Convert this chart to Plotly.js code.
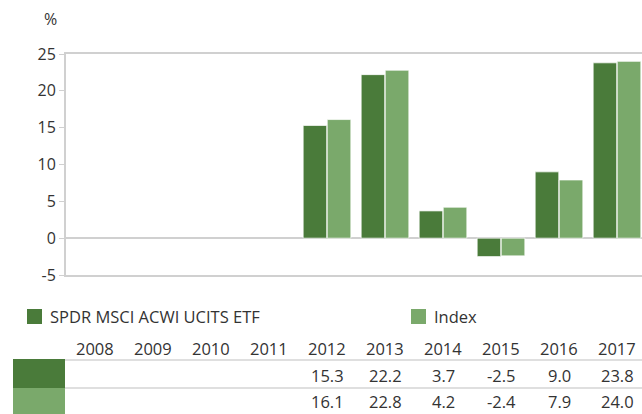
<!DOCTYPE html>
<html>
<head>
<meta charset="utf-8">
<script src="https://cdn.plot.ly/plotly-3.0.1.min.js"></script>
<style>
html,body{margin:0;padding:0;overflow:hidden;background:#fff;}
#chart{width:660px;height:414px;}
</style>
</head>
<body>
<div id="chart"></div>
<script>
const years = ['2008','2009','2010','2011','2012','2013','2014','2015','2016','2017'];
const fundValues = [null,null,null,null,15.3,22.2,3.7,-2.5,9.0,23.8];
const indexValues = [null,null,null,null,16.1,22.8,4.2,-2.4,7.9,24.0];
const seriesNames = ['SPDR MSCI ACWI UCITS ETF','Index'];
const seriesColors = ['#4a7b3a','#7aa96b'];
const yTicks = [-5,0,5,10,15,20,25];
const yTickText = ['-5','0','5','10','15','20','25'];

const W = 660, H = 414, ML = 66, MR = 14, MT = 54, MB = 139;
const PW = W - ML - MR, PH = H - MT - MB;
const toPX = x => (x - ML) / PW;
const toPY = y => (H - MB - y) / PH;
const txt = '#333333';
const fnt = "'Open Sans', 'Noto Sans', sans-serif";
const FS = 16.5;
const xNum = years.map(Number);

const traces = [fundValues, indexValues].map((vals, i) => ({
  type: 'bar', x: xNum, y: vals, name: seriesNames[i],
  marker: {color: seriesColors[i], line: {color: 'rgba(255,255,255,0.7)', width: 1}},
  hoverinfo: 'skip'
}));

const shapes = [];
const annotations = [];
annotations.push({xref:'paper', yref:'paper', x: toPX(50), y: toPY(19), text:'%', showarrow:false,
  xanchor:'center', yanchor:'middle', font:{size:16, color:txt, family:fnt}});

const legX = [27, 411];
seriesNames.forEach((n, i) => {
  shapes.push({type:'rect', xref:'paper', yref:'paper', x0: toPX(legX[i]), x1: toPX(legX[i]+15),
    y0: toPY(324), y1: toPY(309), fillcolor: seriesColors[i], line:{width:0}});
  annotations.push({xref:'paper', yref:'paper', x: toPX(legX[i]+21), y: toPY(316), text: n, showarrow:false,
    xanchor:'left', yanchor:'middle', font:{size:FS, color:txt, family:fnt}});
});

const rowY = [375, 401];
years.forEach((yr, j) => {
  annotations.push({xref:'x', yref:'paper', x: xNum[j], y: toPY(348), text: yr, showarrow:false,
    xanchor:'center', yanchor:'middle', font:{size:FS, color:txt, family:fnt}});
  [fundValues, indexValues].forEach((vals, i) => {
    if (vals[j] !== null) {
      annotations.push({xref:'x', yref:'paper', x: xNum[j], y: toPY(rowY[i]), text: vals[j].toFixed(1), showarrow:false,
        xanchor:'center', yanchor:'middle', borderpad:0, font:{size:FS, color:txt, family:fnt}});
    }
  });
});
shapes.push({type:'rect', xref:'paper', yref:'paper', x0: toPX(13), x1: toPX(65), y0: toPY(388), y1: toPY(359),
  fillcolor: seriesColors[0], line:{width:0}});
shapes.push({type:'rect', xref:'paper', yref:'paper', x0: toPX(13), x1: toPX(65), y0: toPY(416), y1: toPY(388),
  fillcolor: seriesColors[1], line:{width:0}});
[360, 388].forEach(y => shapes.push({type:'line', xref:'paper', yref:'paper', x0: toPX(65), x1: 1.05,
  y0: toPY(y), y1: toPY(y), line:{color:'#d4d4d4', width:1.5}}));

const layout = {
  width: W, height: H,
  margin: {l: ML, r: MR, t: MT, b: MB, pad: 0},
  paper_bgcolor: '#fff', plot_bgcolor: '#fff',
  showlegend: false,
  barmode: 'group', bargap: 0.17, bargroupgap: 0.02,
  font: {family: fnt, color: txt, size: FS},
  xaxis: {range:[xNum[0]-0.5, xNum[xNum.length-1]+0.5], showticklabels:false, ticks:'', showgrid:false, zeroline:false,
    showline:true, mirror:true, linecolor:'#d0d0d0', linewidth:2},
  yaxis: {range:[-5,25], tickvals: yTicks, ticktext: yTickText, ticks:'outside', ticklen:5, tickcolor:'#d0d0d0', tickwidth:1,
    showgrid:false, zeroline:true, zerolinecolor:'#d0d0d0', zerolinewidth:2,
    showline:true, linecolor:'#d0d0d0', linewidth:2, tickfont:{size:16, color:txt, family:fnt}},
  shapes: shapes,
  annotations: annotations
};
Plotly.newPlot('chart', traces, layout, {displayModeBar:false});
</script>
</body>
</html>
